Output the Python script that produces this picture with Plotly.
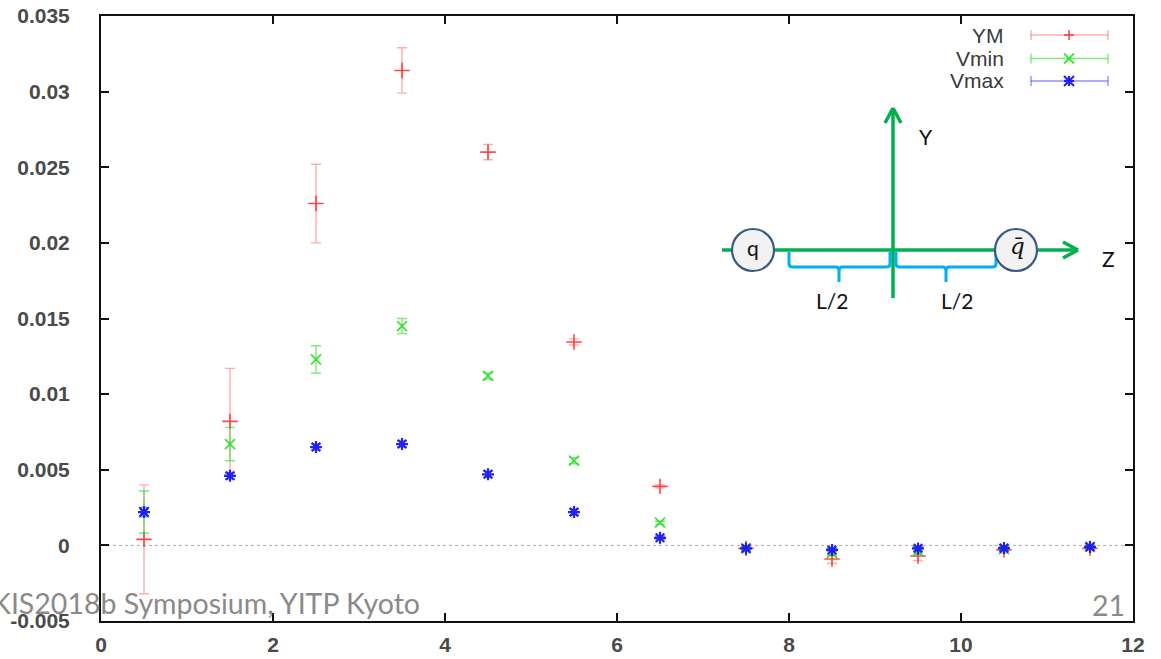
import plotly.graph_objects as go

# ---------------- data ----------------
L_vals = [0.5, 1.5, 2.5, 3.5, 4.5, 5.5, 6.5, 7.5, 8.5, 9.5, 10.5, 11.5]

ym = [0.0004, 0.0082, 0.0226, 0.0314, 0.0260, 0.01345, 0.0039, -0.0002, -0.0009, -0.0007, -0.0003, -0.0002]
ym_err = [0.0036, 0.0035, 0.0026, 0.0015, 0.0005, 0.0002, 0.0001, 0.0001, 0.0003, 0.0003, 0.0002, 0.0001]

vmin = [0.0022, 0.0067, 0.0123, 0.0145, 0.0112, 0.0056, 0.0015, -0.0002, -0.0005, -0.0004, -0.00025, -0.0001]
vmin_err = [0.0014, 0.0011, 0.0009, 0.0005, 0.0002, 0.0002, 0.0001, 0.0001, 0.0002, 0.0002, 0.0001, 0.0001]

vmax = [0.0022, 0.0046, 0.0065, 0.0067, 0.0047, 0.0022, 0.0005, -0.0002, -0.0003, -0.0002, -0.00018, -0.0001]
vmax_err = [0.0003, 0.0002, 0.0002, 0.0002, 0.0002, 0.0002, 0.0001, 0.0001, 0.0001, 0.0001, 0.0001, 0.0001]

series_names = ["YM", "Vmin", "Vmax"]
x_ticks = [0, 2, 4, 6, 8, 10, 12]
y_ticks = [-0.005, 0, 0.005, 0.01, 0.015, 0.02, 0.025, 0.03, 0.035]
y_tick_text = ["-0.005", "0", "0.005", "0.01", "0.015", "0.02", "0.025", "0.03", "0.035"]

# ---------------- styles ----------------
W, H = 1161, 659
ML, MR, MT, MB = 101, 28, 16, 38
PW = W - ML - MR
PH = H - MT - MB

def X(px):
    return (px - ML) / PW

def Y(py):
    return (H - MB - py) / PH

styles = [
    dict(sym="cross-thin", size=11, mcol="rgba(255,40,40,0.85)", ecol="rgba(255,70,70,0.45)", lw=1.6),
    dict(sym="x-thin", size=10, mcol="rgba(40,225,40,0.9)", ecol="rgba(40,220,40,0.6)", lw=1.8),
    dict(sym="asterisk", size=10, mcol="rgba(25,25,235,0.95)", ecol="rgba(70,70,255,0.6)", lw=2.2),
]

fig = go.Figure()
for name, ys, es, st in zip(series_names, [ym, vmin, vmax], [ym_err, vmin_err, vmax_err], styles):
    fig.add_trace(go.Scatter(
        x=L_vals, y=ys, mode="markers", name=name, showlegend=False,
        marker=dict(symbol=st["sym"], size=st["size"], color=st["mcol"],
                    line=dict(color=st["mcol"], width=st["lw"])),
        error_y=dict(type="data", array=es, visible=True, color=st["ecol"],
                     thickness=1.4, width=5),
    ))

shapes = []
annotations = []

# zero dotted line
shapes.append(dict(type="line", xref="paper", yref="y", x0=0, x1=1, y0=0, y1=0,
                   line=dict(color="#aaaaaa", width=1, dash="dot"), layer="below"))

# ---------------- custom legend (gnuplot style) ----------------
leg_y = [35, 58.5, 81]
for name, st, py in zip(series_names, styles, leg_y):
    annotations.append(dict(text=name, xref="paper", yref="paper", x=X(1006), y=Y(py),
                            xanchor="right", yanchor="middle", showarrow=False,
                            font=dict(family="Liberation Sans", size=21, color="#3a3a3a")))
    x0, x1, xm = 1031, 1108, 1069
    shapes.append(dict(type="line", xref="paper", yref="paper", x0=X(x0), x1=X(x1), y0=Y(py), y1=Y(py),
                       line=dict(color=st["ecol"], width=1.4)))
    for xc in (x0, x1):
        shapes.append(dict(type="line", xref="paper", yref="paper", x0=X(xc), x1=X(xc), y0=Y(py - 5), y1=Y(py + 5),
                           line=dict(color=st["ecol"], width=1.4)))
    s = 5
    if st["sym"] in ("cross-thin", "asterisk"):
        shapes.append(dict(type="line", xref="paper", yref="paper", x0=X(xm - s), x1=X(xm + s), y0=Y(py), y1=Y(py),
                           line=dict(color=st["mcol"], width=st["lw"])))
        shapes.append(dict(type="line", xref="paper", yref="paper", x0=X(xm), x1=X(xm), y0=Y(py - s), y1=Y(py + s),
                           line=dict(color=st["mcol"], width=st["lw"])))
    if st["sym"] in ("x-thin", "asterisk"):
        shapes.append(dict(type="line", xref="paper", yref="paper", x0=X(xm - s), x1=X(xm + s), y0=Y(py - s), y1=Y(py + s),
                           line=dict(color=st["mcol"], width=st["lw"])))
        shapes.append(dict(type="line", xref="paper", yref="paper", x0=X(xm - s), x1=X(xm + s), y0=Y(py + s), y1=Y(py - s),
                           line=dict(color=st["mcol"], width=st["lw"])))

# ---------------- inset diagram ----------------
GREEN = "#00b050"
BLUE = "#00b0f0"
CIRC = "#3b5a82"

def pline(xa, ya, xb, yb, color, width):
    shapes.append(dict(type="line", xref="paper", yref="paper", x0=X(xa), y0=Y(ya), x1=X(xb), y1=Y(yb),
                       line=dict(color=color, width=width)))

pline(722, 250, 1076, 250, GREEN, 3.5)
pline(893, 298, 893, 110, GREEN, 3.5)
pline(1078, 250, 1063, 242, GREEN, 3.5)
pline(1078, 250, 1063, 258, GREEN, 3.5)
pline(893, 108, 885, 123, GREEN, 3.5)
pline(893, 108, 901, 123, GREEN, 3.5)

def brace(xa, xb, xm):
    path = (f"M {X(xa)},{Y(252)} L {X(xa)},{Y(264)} Q {X(xa)},{Y(267)} {X(xa+4)},{Y(267)} "
            f"L {X(xm-3)},{Y(267)} Q {X(xm)},{Y(267)} {X(xm)},{Y(271)} L {X(xm)},{Y(282)} "
            f"M {X(xm)},{Y(271)} Q {X(xm)},{Y(267)} {X(xm+3)},{Y(267)} "
            f"L {X(xb-4)},{Y(267)} Q {X(xb)},{Y(267)} {X(xb)},{Y(264)} L {X(xb)},{Y(252)}")
    shapes.append(dict(type="path", xref="paper", yref="paper", path=path,
                       line=dict(color=BLUE, width=3)))

brace(789, 890, 839)
brace(896, 996, 946)

for cx in (753, 1016):
    r = 21
    shapes.append(dict(type="circle", xref="paper", yref="paper",
                       x0=X(cx - r), x1=X(cx + r), y0=Y(250 + r), y1=Y(250 - r),
                       fillcolor="#f2f2f2", line=dict(color=CIRC, width=2.2)))

def ptext(txt, px, py, size=21, family="Lato", color="#111111", xanchor="center"):
    annotations.append(dict(text=txt, xref="paper", yref="paper", x=X(px), y=Y(py),
                            xanchor=xanchor, yanchor="middle", showarrow=False,
                            font=dict(family=family, size=size, color=color)))

ptext("q", 753, 247, size=21)
ptext("<i>q̄</i>", 1017, 246, size=23, family="DejaVu Serif")
ptext("Y", 926, 137, size=21)
ptext("Z", 1108, 258, size=21)
ptext("L/2", 832, 300, size=21)
ptext("L/2", 957, 300, size=21)

ptext("KIS2018b Symposium, YITP Kyoto", 422, 603, size=28.5, family="Lato", color="#8a8a8a", xanchor="right")
ptext("21", 1127, 605, size=28.5, family="Lato", color="#8a8a8a", xanchor="right")

axis_common = dict(showline=True, linecolor="#111111", linewidth=2, mirror="ticks",
                   ticks="inside", ticklen=8, tickwidth=1.5, tickcolor="#111111",
                   showgrid=False, zeroline=False, automargin=False,
                   tickfont=dict(family="Liberation Sans", size=21, color="#4a4a4a", weight="bold"))

fig.update_layout(
    width=W, height=H,
    margin=dict(l=ML, r=MR, t=MT, b=MB, pad=0, autoexpand=False),
    paper_bgcolor="white", plot_bgcolor="white",
    xaxis=dict(range=[0, 12], tickvals=x_ticks, ticktext=[str(v) for v in x_ticks],
               ticklabelstandoff=4, **axis_common),
    yaxis=dict(range=[-0.005, 0.035], tickvals=y_ticks, ticktext=y_tick_text,
               ticklabelstandoff=25, **axis_common),
    shapes=shapes, annotations=annotations,
)

fig.write_html("out.html")
